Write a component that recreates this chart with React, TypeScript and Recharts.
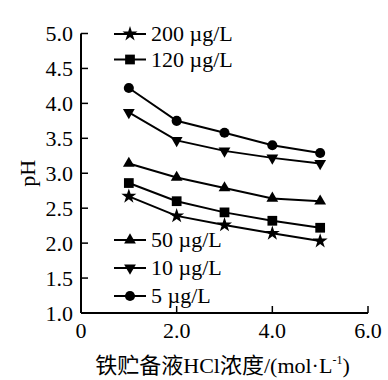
import React from 'react';
import { LineChart, Line, XAxis, YAxis, Legend, Symbols } from 'recharts';

const xValues = [1, 2, 3, 4, 5];
const ph5 = [4.22, 3.75, 3.58, 3.4, 3.29];
const ph10 = [3.87, 3.47, 3.32, 3.22, 3.14];
const ph50 = [3.14, 2.94, 2.79, 2.64, 2.6];
const ph120 = [2.86, 2.6, 2.44, 2.32, 2.22];
const ph200 = [2.67, 2.39, 2.26, 2.14, 2.03];

const xTicks = [0, 2, 4, 6];
const yTicks = [1, 1.5, 2, 2.5, 3, 3.5, 4, 4.5, 5];

const seriesNames = {
  s200: '200 µg/L',
  s120: '120 µg/L',
  s50: '50 µg/L',
  s10: '10 µg/L',
  s5: '5 µg/L',
};
const topLegend = ['s200', 's120'];
const bottomLegend = ['s50', 's10', 's5'];

const data = xValues.map((x, i) => ({
  x,
  s5: ph5[i],
  s10: ph10[i],
  s50: ph50[i],
  s120: ph120[i],
  s200: ph200[i],
}));

const FONT = "'Liberation Serif', 'Times New Roman', 'Noto Sans CJK SC', serif";

const markers: Record<string, { type: any; size: number; rotate?: boolean }> = {
  s200: { type: 'star', size: 70 },
  s120: { type: 'square', size: 95 },
  s50: { type: 'triangle', size: 60 },
  s10: { type: 'triangle', size: 60, rotate: true },
  s5: { type: 'circle', size: 80 },
};

const Marker = ({ k, cx, cy }: { k: string; cx: number; cy: number }) => {
  const m = markers[k];
  const sym = <Symbols cx={cx} cy={cy} type={m.type} size={m.size} fill="#000" stroke="none" />;
  if (m.rotate) return <g transform={`rotate(180 ${cx} ${cy})`}>{sym}</g>;
  return sym;
};

const makeDot = (k: string) => (props: any) => {
  const { cx, cy, index } = props;
  if (cx == null || cy == null) return <g key={`${k}-${index}`} />;
  return (
    <g key={`${k}-${index}`}>
      <Marker k={k} cx={cx} cy={cy} />
    </g>
  );
};

const LegendRow = ({ k, y }: { k: string; y: number }) => (
  <g>
    <line x1={114} x2={146} y1={y} y2={y} stroke="#000" strokeWidth={2} />
    <Marker k={k} cx={130} cy={y} />
    <text x={151} y={y + 7} fontFamily={FONT} fontSize={22} fill="#000">
      {(seriesNames as any)[k]}
    </text>
  </g>
);

const LegendContent = () => (
  <svg width={388} height={380} style={{ position: 'absolute', left: 0, top: 0, pointerEvents: 'none' }}>
    {topLegend.map((k, i) => (
      <LegendRow key={k} k={k} y={34 + i * 25.5} />
    ))}
    {bottomLegend.map((k, i) => (
      <LegendRow key={k} k={k} y={240 + i * 28} />
    ))}
  </svg>
);

const XLabel = (props: any) => {
  const vb = props.viewBox || {};
  const cx = vb.x + vb.width / 2 - 2;
  const y = vb.y + 60;
  return (
    <text x={cx} y={y} textAnchor="middle" fontFamily={FONT} fontSize={22} fill="#000">
      <tspan>铁贮备液HCl浓度/(mol·L</tspan>
      <tspan dy={-9} fontSize={12}>-1</tspan>
      <tspan dy={9}>)</tspan>
    </text>
  );
};

const YLabel = (props: any) => {
  const vb = props.viewBox || {};
  const x = vb.x + 6;
  const cy = vb.y + vb.height / 2;
  return (
    <text
      x={x}
      y={cy}
      transform={`rotate(-90 ${x} ${cy})`}
      textAnchor="middle"
      dominantBaseline="central"
      fontFamily={FONT}
      fontSize={22}
      fill="#000"
    >
      pH
    </text>
  );
};

const order = ['s5', 's10', 's50', 's120', 's200'];

export default function App() {
  return (
    <div style={{ position: 'absolute', left: 0, top: 0, width: 388, height: 380, background: '#fff' }}>
      <LineChart width={388} height={380} data={data} margin={{ top: 33.5, right: 20, left: 21, bottom: 37 }}>
        <XAxis
          type="number"
          dataKey="x"
          domain={[0, 6]}
          ticks={xTicks}
          interval={0}
          tickFormatter={(v: number) => (v === 0 ? '0' : v.toFixed(1))}
          axisLine={{ stroke: '#000', strokeWidth: 2 }}
          tickLine={{ stroke: '#000', strokeWidth: 1.5 }}
          tickSize={-7}
          tickMargin={16}
          height={30}
          tick={{ fill: '#000', fontSize: 22, fontFamily: FONT }}
          label={{ content: XLabel }}
        />
        <YAxis
          type="number"
          domain={[1, 5]}
          ticks={yTicks}
          interval={0}
          tickFormatter={(v: number) => v.toFixed(1)}
          axisLine={{ stroke: '#000', strokeWidth: 2 }}
          tickLine={{ stroke: '#000', strokeWidth: 1.5 }}
          tickSize={-7}
          tickMargin={15}
          width={60}
          tick={{ fill: '#000', fontSize: 22, fontFamily: FONT }}
          label={{ content: YLabel }}
        />
        <Legend layout="vertical" align="center" verticalAlign="middle" content={LegendContent} wrapperStyle={{ left: 0, top: 0, width: 388, height: 380 }} />
        {order.map((k) => (
          <Line
            key={k}
            type="linear"
            dataKey={k}
            name={(seriesNames as any)[k]}
            stroke="#000"
            strokeWidth={2}
            dot={makeDot(k)}
            activeDot={false}
            isAnimationActive={false}
          />
        ))}
      </LineChart>
    </div>
  );
}
